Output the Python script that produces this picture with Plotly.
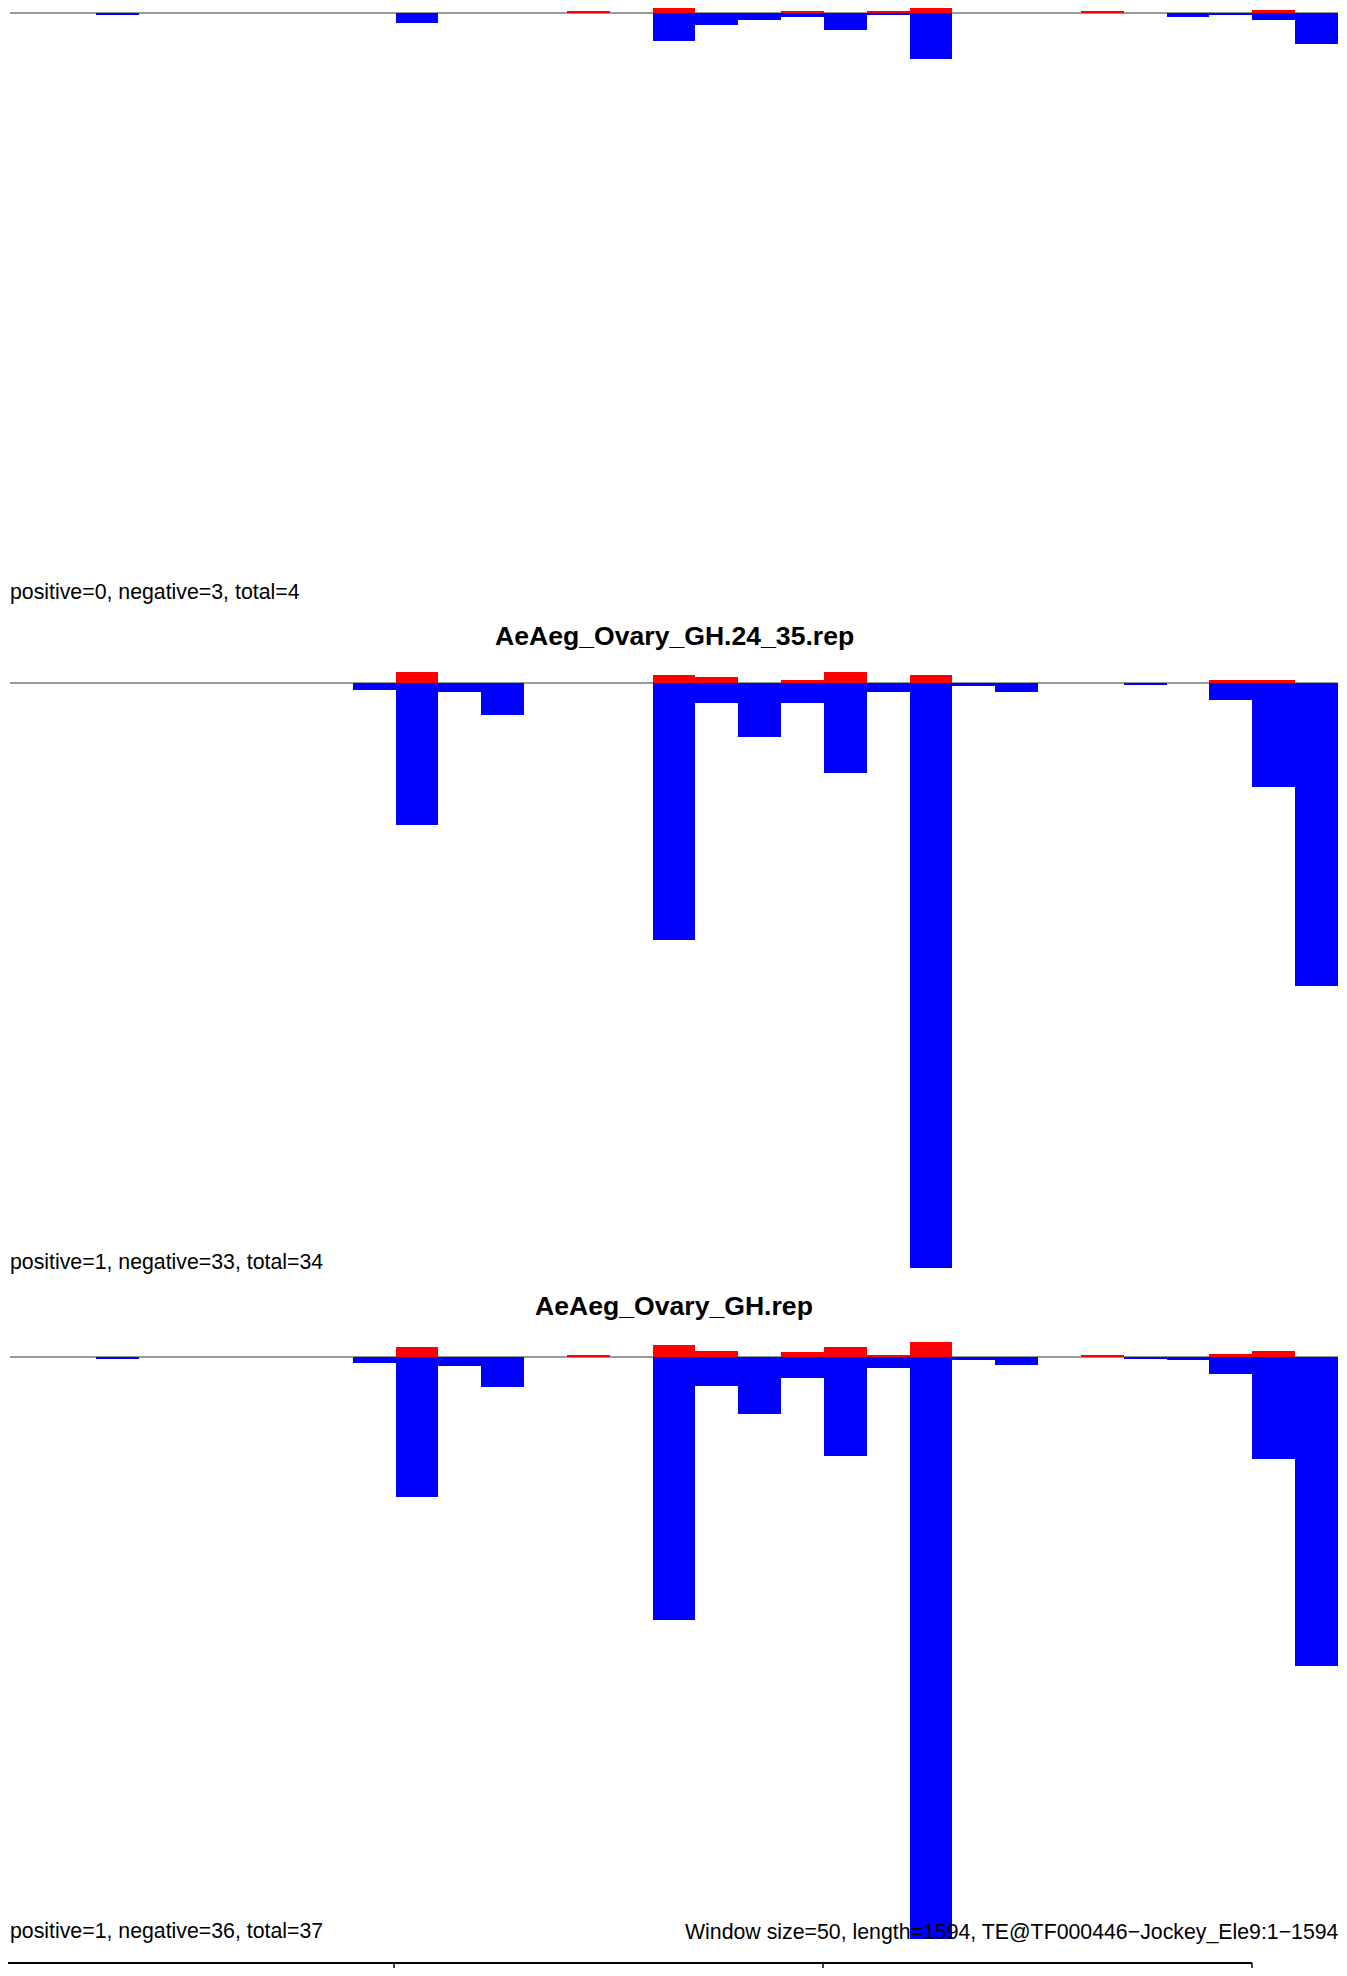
import plotly.graph_objects as go

# ---------------- data ----------------
WINDOW = 50
window_starts = list(range(0, 1550, WINDOW))          # 31 windows
centers = [s + WINDOW / 2 for s in window_starts]

# panel 1 (its title lies above the visible area)
p1_pos = [0, 0, 0, 0, 0, 0, 0, 0, 0, 0, 0, 0, 0, 2.3, 0, 5.6, 0, 0, 2.3, 0, 2.3, 8.3, 0, 0, 0, 2.3, 0, 0, 0, 3.3, 0]
p1_neg = [0, 0, 1.7, 0, 0, 0, 0, 0, 0, 9.7, 0, 0, 0, 0, 0, 27.4, 11.7, 6.7, 3.4, 16.7, 1.7, 45.7, 0, 0, 0, 0, 0, 3.4, 1.7, 6.7, 30.7]

# panel 2
p2_pos = [0, 0, 0, 0, 0, 0, 0, 0, 0, 11.3, 0, 0, 0, 0, 0, 8.3, 6.3, 0, 3.3, 11.3, 0, 8.3, 0, 0, 0, 0, 0, 0, 3.3, 3.3, 0]
p2_neg = [0, 0, 0, 0, 0, 0, 0, 0, 6.7, 141.7, 9.3, 32.4, 0, 0, 0, 256.7, 19.7, 54.4, 19.7, 90.4, 9.3, 585.4, 3.4, 8.7, 0, 0, 1.4, 0, 16.7, 103.7, 303.4]

# panel 3
p3_pos = [0, 0, 0, 0, 0, 0, 0, 0, 0, 10, 0, 0, 0, 2, 0, 12, 6, 0, 5, 10, 2, 15, 0, 0, 0, 2, 0, 0, 3, 6, 0]
p3_neg = [0, 0, 2, 0, 0, 0, 0, 0, 6, 139.7, 8.7, 29.7, 0, 0, 0, 263, 29, 56.7, 21, 99, 11, 582.3, 3, 7.7, 0, 0, 2, 3, 16.7, 102, 308.7]

titles = [None, "AeAeg_Ovary_GH.24_35.rep", "AeAeg_Ovary_GH.rep"]
info_texts = ["positive=0, negative=3, total=4",
              "positive=1, negative=33, total=34",
              "positive=1, negative=36, total=37"]
footer_text = "Window size=50, length=1594, TE@TF000446\u2212Jockey_Ele9:1\u22121594"

pos_series = [p1_pos, p2_pos, p3_pos]
neg_series = [p1_neg, p2_neg, p3_neg]

# ---------------- layout constants (pixels of the page) ----------------
OFF = 8                      # default body margin of the html page
W, H = 1347 - 2 * OFF, 1976 - 2 * OFF
PLOT_L, PLOT_R = 10 - OFF, 1338 - OFF
baselines = [13.3 - OFF, 683.3 - OFF, 1357 - OFF]
title_y = [None, 635.8 - OFF, 1305.8 - OFF]
info_y = [591.8 - OFF, 1262.1 - OFF, 1930.8 - OFF]
FOOTER_Y = 1932 - OFF
FOOTER_X = 1340.5 - OFF
INFO_X = 9 - OFF
TITLE_X = 674 - OFF
YMIN, YTOP = -600, 20
FONT = "Liberation Sans, Arial, Helvetica, sans-serif"
RED, BLUE, GREY = "#FF0000", "#0000FF", "#9a9a9a"
INFO_SIZE, TITLE_SIZE = 21.3, 26.6


def px(x):
    return x / W


def py(y):
    return 1 - y / H


fig = go.Figure()
layout_axes = {}
annotations = []
for i in range(3):
    k = "" if i == 0 else str(i + 1)
    xa, ya = f"x{k}", f"y{k}"
    base = baselines[i]
    top_px = max(0.0, base - YTOP)
    ytop_val = base - top_px
    bottom_px = base - YMIN
    fig.add_trace(go.Bar(x=centers, y=pos_series[i], width=WINDOW,
                         marker=dict(color=RED, line=dict(width=0)),
                         xaxis=xa, yaxis=ya, showlegend=False))
    fig.add_trace(go.Bar(x=centers, y=[-v for v in neg_series[i]], width=WINDOW,
                         marker=dict(color=BLUE, line=dict(width=0)),
                         xaxis=xa, yaxis=ya, showlegend=False))
    layout_axes[f"xaxis{k}"] = dict(
        domain=[px(PLOT_L), px(PLOT_R)],
        range=[window_starts[0], window_starts[-1] + WINDOW],
        showticklabels=False, showgrid=False, showline=False, ticks="",
        zeroline=False, fixedrange=True, anchor=ya)
    layout_axes[f"yaxis{k}"] = dict(
        domain=[py(bottom_px), py(top_px)], range=[YMIN, ytop_val],
        showticklabels=False, showgrid=False, showline=False, ticks="",
        zeroline=True, zerolinecolor=GREY, zerolinewidth=1.5,
        fixedrange=True, anchor=xa)
    if titles[i]:
        annotations.append(dict(
            text=titles[i], xref="paper", yref="paper",
            x=px(TITLE_X), y=py(title_y[i]), xanchor="center", yanchor="middle",
            showarrow=False, borderpad=0,
            font=dict(family=FONT, size=TITLE_SIZE, color="black", weight="bold")))
    annotations.append(dict(
        text=info_texts[i], xref="paper", yref="paper",
        x=px(INFO_X), y=py(info_y[i]), xanchor="left", yanchor="middle",
        showarrow=False, borderpad=0,
        font=dict(family=FONT, size=INFO_SIZE, color="black")))

# footer (drawn on top of the bars, as in the original)
annotations.append(dict(
    text=footer_text, xref="paper", yref="paper",
    x=px(FOOTER_X), y=py(FOOTER_Y), xanchor="right", yanchor="middle",
    showarrow=False, borderpad=0,
    font=dict(family=FONT, size=INFO_SIZE, color="black")))

# table border at the very bottom of the page
shapes = []
tbl_y = py(1963 - OFF)
shapes.append(dict(type="line", xref="paper", yref="paper",
                   x0=0, x1=px(1252 - OFF), y0=tbl_y, y1=tbl_y,
                   line=dict(color="black", width=2)))
for xv in (394, 823, 1252):
    shapes.append(dict(type="line", xref="paper", yref="paper",
                       x0=px(xv - OFF), x1=px(xv - OFF), y0=0, y1=tbl_y,
                       line=dict(color="black", width=1.5)))

fig.update_layout(
    width=W, height=H, margin=dict(l=0, r=0, t=0, b=0),
    paper_bgcolor="white", plot_bgcolor="rgba(0,0,0,0)",
    barmode="relative", bargap=0,
    annotations=annotations, shapes=shapes,
    **layout_axes)

fig.write_html("out.html")
